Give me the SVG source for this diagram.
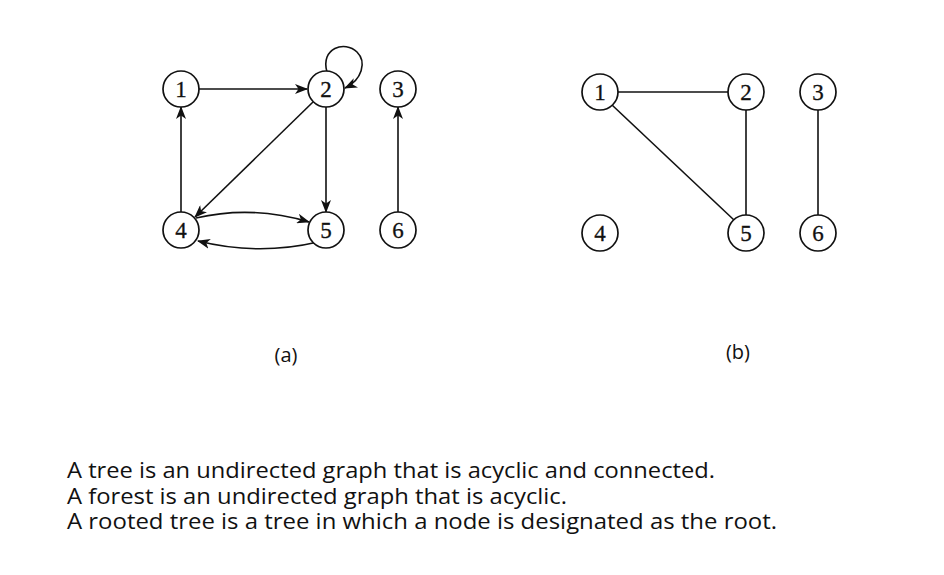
<svg xmlns="http://www.w3.org/2000/svg" width="944" height="575" viewBox="0 0 944 575">
<style>
.n circle{fill:#fff;stroke:#111;stroke-width:1.7}
.n text{font-family:"Liberation Serif","DejaVu Serif",serif;font-size:23px;fill:#111;stroke:#111;stroke-width:0.3;text-anchor:middle}
.e path,.e line{fill:none;stroke:#111;stroke-width:1.6}
.d{marker-end:url(#ah)}
.lbl{font-family:"Open Sans","Noto Sans",sans-serif;font-size:20px;fill:#111}
.body{font-family:"Open Sans","Noto Sans",sans-serif;font-size:21.5px;fill:#111}
</style>
<defs>
<marker id="ah" viewBox="0 0 13 10" refX="12" refY="5" markerWidth="13" markerHeight="10" markerUnits="userSpaceOnUse" orient="auto">
<path d="M0,0 L13,5 L0,10 L3.5,5 Z" fill="#111"/>
</marker>
</defs>
<rect width="944" height="575" fill="#fff"/>
<g id="edges-a" class="e">
<line class="d" x1="199" y1="89" x2="307" y2="89"/>
<line class="d" x1="181" y1="212" x2="181" y2="107"/>
<line class="d" x1="313" y1="102" x2="195" y2="217"/>
<line class="d" x1="326" y1="107" x2="326" y2="212"/>
<line class="d" x1="398" y1="212" x2="398" y2="107"/>
<path class="d" d="M196,218 Q252,205 309,222"/>
<path class="d" d="M318,242 Q258,256 198,241"/>
<path class="d" d="M327,72 C320,48 345,40 357,52 C367,62 362,80 345,88"/>
</g>
<g id="edges-b" class="e">
<line x1="618" y1="92" x2="728" y2="92"/>
<line x1="612" y1="105" x2="734" y2="220"/>
<line x1="746" y1="110" x2="746" y2="215"/>
<line x1="818" y1="110" x2="818" y2="215"/>
</g>
<g id="a1" class="n"><circle cx="181" cy="89" r="18"/><text x="181" y="97">1</text></g>
<g id="a2" class="n"><circle cx="326" cy="89" r="18"/><text x="326" y="97">2</text></g>
<g id="a3" class="n"><circle cx="398" cy="89" r="18"/><text x="398" y="97">3</text></g>
<g id="a4" class="n"><circle cx="181" cy="230" r="18"/><text x="181" y="238">4</text></g>
<g id="a5" class="n"><circle cx="326" cy="230" r="18"/><text x="326" y="238">5</text></g>
<g id="a6" class="n"><circle cx="398" cy="230" r="18"/><text x="398" y="238">6</text></g>
<g id="b1" class="n"><circle cx="600" cy="92" r="18"/><text x="600" y="100">1</text></g>
<g id="b2" class="n"><circle cx="746" cy="92" r="18"/><text x="746" y="100">2</text></g>
<g id="b3" class="n"><circle cx="818" cy="92" r="18"/><text x="818" y="100">3</text></g>
<g id="b4" class="n"><circle cx="600" cy="233" r="18"/><text x="600" y="241">4</text></g>
<g id="b5" class="n"><circle cx="746" cy="233" r="18"/><text x="746" y="241">5</text></g>
<g id="b6" class="n"><circle cx="818" cy="233" r="18"/><text x="818" y="241">6</text></g>
<text class="lbl" x="286" y="362" text-anchor="middle">(a)</text>
<text class="lbl" x="738" y="359" text-anchor="middle">(b)</text>
<text class="body" x="67" y="478" textLength="648" lengthAdjust="spacingAndGlyphs">A tree is an undirected graph that is acyclic and connected.</text>
<text class="body" x="67" y="503.5" textLength="500" lengthAdjust="spacingAndGlyphs">A forest is an undirected graph that is acyclic.</text>
<text class="body" x="67" y="529" textLength="710" lengthAdjust="spacingAndGlyphs">A rooted tree is a tree in which a node is designated as the root.</text>
</svg>
